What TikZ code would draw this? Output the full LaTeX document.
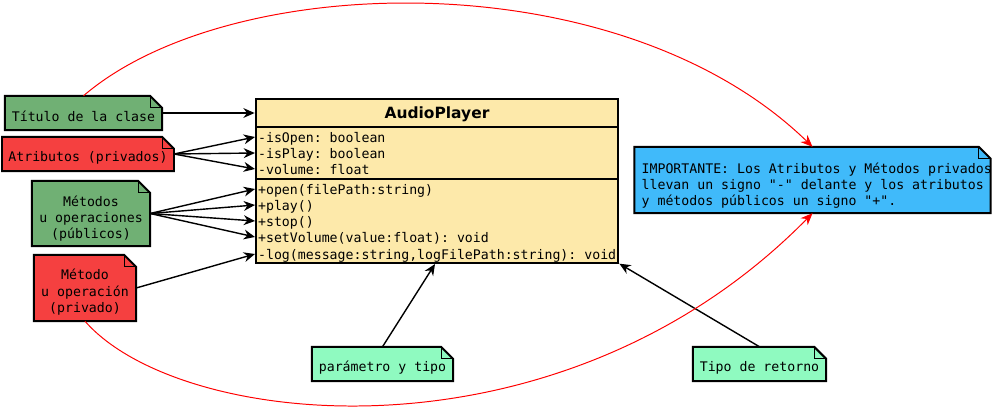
\documentclass[tikz,border=0pt]{standalone}
\usepackage{fontspec}
\setmonofont{DejaVu Sans Mono}
\newfontfamily\titulofont{DejaVu Sans}
\usetikzlibrary{arrows.meta}

\definecolor{verde}{RGB}{112,176,116}
\definecolor{rojizo}{RGB}{245,64,64}
\definecolor{amarillo}{RGB}{253,233,170}
\definecolor{celeste}{RGB}{64,186,250}
\definecolor{menta}{RGB}{143,250,192}

% puntal para bajar la primera linea
\newcommand{\puntal}[1]{\rule{0pt}{#1}}

\begin{document}
\begin{tikzpicture}[x=0.025cm, y=-0.025cm,
    nota/.style={fill=#1, font=\ttfamily\fontsize{9.4}{11.5}\selectfont, align=center, inner sep=0pt},
    miembro/.style={anchor=west, inner xsep=2pt, inner ysep=0pt, text height=9pt, text depth=0.8pt, font=\ttfamily\fontsize{9.4}{11.3}\selectfont},
    flecha/.style={line width=1pt, -{Stealth[length=8pt, width=7pt]}},
    rojo/.style={red, line width=0.7pt, -{Stealth[length=8.5pt, width=7pt]}}]
    \useasboundingbox (0,0) rectangle (992,408);

    % Clase
    \node[draw, line width=1.4pt, fill=amarillo, minimum width=258pt, minimum height=116.2pt, inner sep=0pt] (clase) at (437,181) {};
    \node[font=\titulofont\bfseries\fontsize{11}{13}\selectfont] (nombre) at (437,114) {AudioPlayer};
    \draw[line width=1.4pt] (255,127) -- (619,127);
    \draw[line width=1.4pt] (255,179) -- (619,179);
    \foreach \n/\y/\txt in {a1/137/-isOpen: boolean, a2/153/-isPlay: boolean, a3/169/-volume: float,
        m1/189/+open(filePath:string), m2/205/+play(), m3/221/+stop(),
        m4/237/+setVolume(value:float): void, m5/254/{-log(message:string,logFilePath:string): void}} {
        \node[miembro] (\n) at (255,\y) {\txt};
    }

    % Notas
    \node[nota=verde, minimum width=111.3pt, minimum height=24.1pt] (titulo) at (83.5,113) {\puntal{12.5pt}Título de la clase};
    \node[nota=rojizo, minimum width=121.9pt, minimum height=24.1pt] (atrib) at (88,154) {\puntal{12.5pt}Atributos (privados)};
    \node[nota=verde, minimum width=83.6pt, minimum height=46.1pt] (metpub) at (91,213.5) {\puntal{14.5pt}Métodos\\u operaciones\\(públicos)};
    \node[nota=rojizo, minimum width=72.3pt, minimum height=46.8pt] (metpriv) at (85,288) {\puntal{13.5pt}Método\\u operación\\(privado)};
    \node[nota=menta, minimum width=99.9pt, minimum height=24.1pt] (param) at (382.5,364) {\puntal{12.5pt}parámetro y tipo};
    \node[nota=menta, minimum width=94.3pt, minimum height=24.1pt] (retorno) at (759.5,364) {\puntal{12.5pt}Tipo de retorno};
    \node[nota=celeste, align=left, inner xsep=5pt, minimum height=46.8pt,
        font=\ttfamily\fontsize{9.4}{11.7}\selectfont] (importante) at (812.5,180)
        {\makebox[243pt][l]{\puntal{15.5pt}IMPORTANTE: Los Atributos y Métodos privados}\\
         \makebox[243pt][l]{llevan un signo "-" delante y los atributos}\\
         \makebox[243pt][l]{y métodos públicos un signo "+".}};

    % Borde con esquina doblada
    \foreach \n in {titulo, atrib, metpub, metpriv, param, retorno, importante} {
        \fill[white] ([xshift=-8.5pt]\n.north east) -- (\n.north east) -- ([yshift=-8.5pt]\n.north east) -- cycle;
        \draw[line width=1.4pt] (\n.south west) -- (\n.north west) -- ([xshift=-8.5pt]\n.north east) -- ([yshift=-8.5pt]\n.north east) -- (\n.south east) -- cycle;
        \draw[line width=0.7pt] ([xshift=-8.5pt]\n.north east) |- ([yshift=-8.5pt]\n.north east);
    }

    % Flechas
    \draw[flecha] (titulo.east) -- (titulo.east -| clase.west);
    \foreach \m in {a1, a2, a3}
        \draw[flecha] (atrib.east) -- (\m.west);
    \foreach \m in {m1, m2, m3, m4}
        \draw[flecha] (metpub.east) -- (\m.west);
    \draw[flecha] (metpriv.east) -- (m5.west);
    \coordinate (ptipo) at (435,264);
    \draw[flecha] (param.north) -- (ptipo);
    \draw[flecha] (retorno.north) -- (clase.south east);

    % Curvas rojas
    \draw[rojo] (titulo.north) .. controls (230,-30) and (620,-40) .. (importante.north);
    \draw[rojo] (metpriv.south) .. controls (180,430) and (560,470) .. (importante.south);
\end{tikzpicture}
\end{document}
